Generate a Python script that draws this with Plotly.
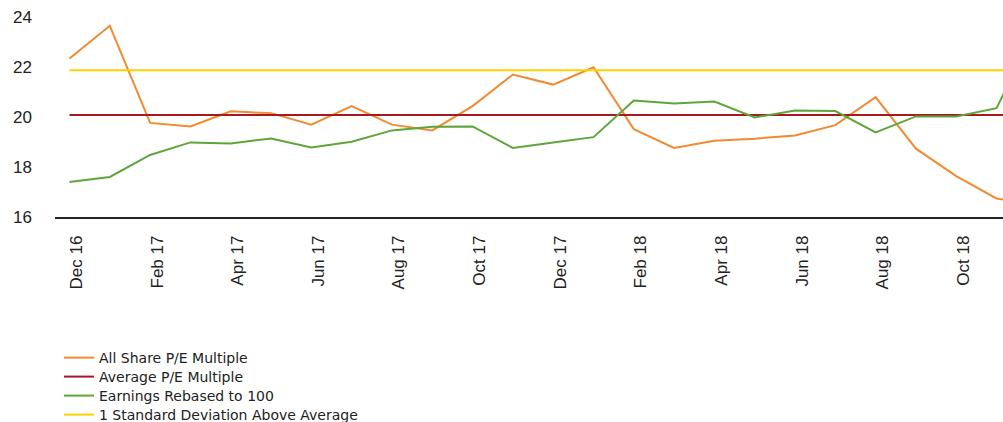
import plotly.graph_objects as go

months = ["Dec 16", "Jan 17", "Feb 17", "Mar 17", "Apr 17", "May 17", "Jun 17",
          "Jul 17", "Aug 17", "Sep 17", "Oct 17", "Nov 17", "Dec 17", "Jan 18",
          "Feb 18", "Mar 18", "Apr 18", "May 18", "Jun 18", "Jul 18", "Aug 18",
          "Sep 18", "Oct 18", "Nov 18", "Dec 18"]

pe_multiple = [22.33, 23.64, 19.76, 19.62, 20.22, 20.15, 19.69, 20.43, 19.69,
               19.46, 20.43, 21.69, 21.29, 21.98, 19.51, 18.76, 19.05, 19.13,
               19.26, 19.67, 20.79, 18.73, 17.63, 16.74, 16.46]

earnings = [17.40, 17.60, 18.48, 18.98, 18.94, 19.14, 18.78, 19.01, 19.46,
            19.61, 19.62, 18.76, 18.98, 19.19, 20.65, 20.53, 20.61, 19.98,
            20.25, 20.23, 19.38, 20.02, 20.02, 20.35, 23.6]

avg_pe = 20.08
sd_above = 21.86

tick_labels = months[0:24:2]

fig = go.Figure()
fig.add_trace(go.Scatter(x=months, y=pe_multiple, mode="lines",
                         name="All Share P/E Multiple", legend="legend",
                         line=dict(color="#F28A30", width=2)))
fig.add_trace(go.Scatter(x=months, y=[avg_pe] * len(months), mode="lines",
                         name="Average P/E Multiple", legend="legend2",
                         line=dict(color="#A8191E", width=2)))
fig.add_trace(go.Scatter(x=months, y=earnings, mode="lines",
                         name="Earnings Rebased to 100", legend="legend3",
                         line=dict(color="#5EA63B", width=2)))
fig.add_trace(go.Scatter(x=months, y=[sd_above] * len(months), mode="lines",
                         name="1 Standard Deviation Above Average", legend="legend4",
                         line=dict(color="#FFD000", width=2)))

# one legend per row so the rows sit at the reference spacing
def row_legend(y_px):
    return dict(xref="container", yref="container", x=59 / 1003, y=1 - y_px / 422,
                xanchor="left", yanchor="middle",
                font=dict(family="DejaVu Sans, Verdana, sans-serif", size=14, color="#222"),
                itemwidth=30, bgcolor="rgba(0,0,0,0)")

fig.update_layout(
    width=1003, height=422,
    paper_bgcolor="white", plot_bgcolor="white",
    margin=dict(l=55, r=0, t=10, b=204.5, autoexpand=False),
    font=dict(family="Liberation Sans, Arial, sans-serif", size=17, color="#222"),
    showlegend=True,
    legend=row_legend(358),
    legend2=row_legend(377),
    legend3=row_legend(396),
    legend4=row_legend(415),
    xaxis=dict(type="category", range=[-0.36, 23.16], tickvals=tick_labels,
               tickangle=-90, showgrid=False, zeroline=False,
               showline=True, linecolor="#222", linewidth=1.5,
               ticks="", ticklabelshift=7, ticklabelstandoff=10),
    yaxis=dict(range=[16, 24.27], tickvals=[16, 18, 20, 22, 24],
               showgrid=False, zeroline=False, showline=False, ticks="",
               ticklabelstandoff=22),
)

fig.write_html("out.html", config={"displayModeBar": False},
               post_script="document.body.style.margin='0';")
